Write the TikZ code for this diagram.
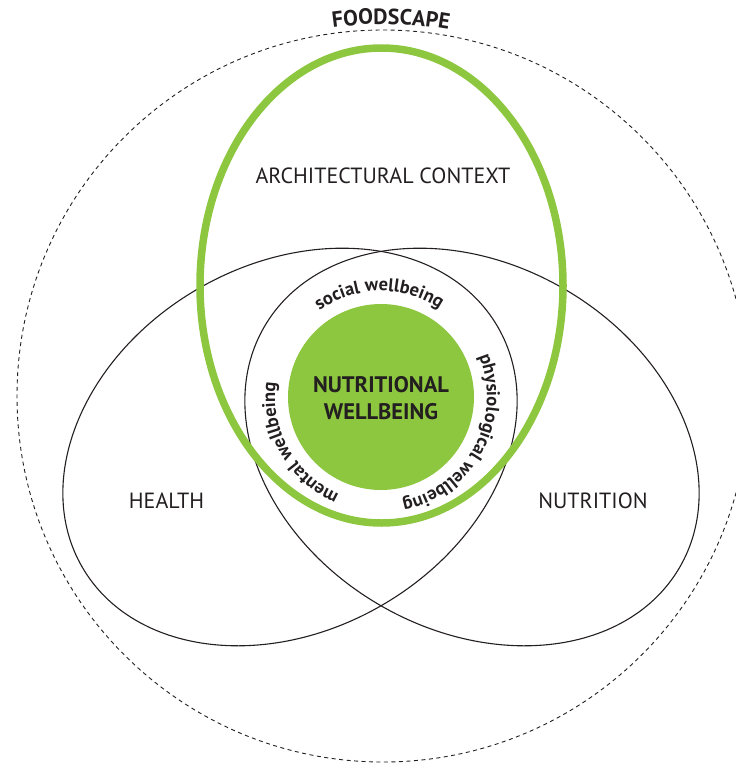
\documentclass[tikz,border=0pt]{standalone}
\usepackage{fontspec}
\setmainfont{PT Sans}
\usetikzlibrary{decorations.text}
\definecolor{leaf}{RGB}{141,198,63}
\definecolor{ink}{RGB}{35,31,32}
\begin{document}
\begin{tikzpicture}[x=1pt,y=-1pt]
\tikzset{
  venn/.style={draw=ink, line width=1.1pt},
  ring/.style={draw=leaf, line width=7.5pt},
  fence/.style={draw=ink, line width=0.9pt, dash pattern=on 4pt off 3.5pt},
  areaname/.style={text=ink, font=\fontsize{22}{26}\selectfont, inner sep=0pt},
  core/.style={text=ink, font=\bfseries\fontsize{22.5}{27.5}\selectfont, align=center, inner sep=0pt},
  arctext/.style={decorate, decoration={text along path, text align=center, text color=ink, text={|\bfseries\fontsize{18.5}{20}\selectfont|#1}}},
}
\useasboundingbox (0,0) rectangle (736,763);
\clip (0,0) rectangle (736,763);
\coordinate (scape) at (383,396);
\coordinate (hub) at (381,397);
\coordinate (hc) at (290,447);
\coordinate (nc) at (472,447);
\coordinate (ac) at (381.5,285.5);
% outer dashed foodscape
\draw[fence] (scape) circle[radius=366];
% health and nutrition
\draw[venn, rotate around={30:(hc)}] (hc) ellipse[x radius=240, y radius=183];
\draw[venn, rotate around={-30:(nc)}] (nc) ellipse[x radius=240, y radius=183];
% core disc
\fill[leaf] (hub) circle[radius=93];
% architectural context ring
\draw[ring] (ac) ellipse[x radius=181.5, y radius=237.5];
% labels
\node[areaname] (arch) at (383,176) {ARCHITECTURAL CONTEXT};
\node[areaname] (health) at (166.5,501) {HEALTH};
\node[areaname] (nutr) at (593,501) {NUTRITION};
\node[core] (nw) at (381,398) {NUTRITIONAL\\WELLBEING};
% curved labels
\path[arctext={social wellbeing}] ([shift={(-151:106)}]hub) arc[start angle=151, end angle=31, radius=106pt];
\path[arctext={physiological wellbeing}] ([shift={(-50:106)}]hub) arc[start angle=50, end angle=-106, radius=106pt];
\path[arctext={mental wellbeing}] ([shift={(90.5:106)}]hub) arc[start angle=-90.5, end angle=-210.5, radius=106pt];
\path[decorate, decoration={text along path, text align=center, text color=ink, text={|\bfseries\fontsize{22}{24}\selectfont|FOODSCAPE}}] ([shift={(-118.8:372)}]scape) arc[start angle=118.8, end angle=58.8, radius=372pt];
\end{tikzpicture}
\end{document}
